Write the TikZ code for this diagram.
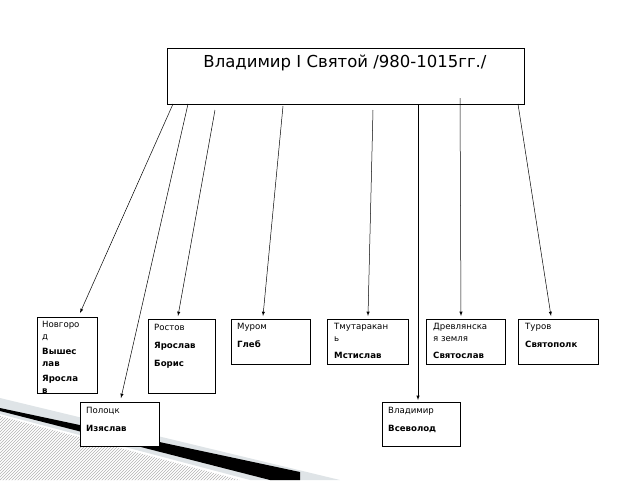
\documentclass[tikz,border=0pt]{standalone}
\usepackage{fontspec}
\setmainfont{DejaVu Sans}
\usetikzlibrary{patterns}
\begin{document}
\begin{tikzpicture}[x=1pt,y=-1pt,
 box/.style={draw,line width=0.6pt},
 lbl/.style={anchor=north west,inner sep=0pt,font=\fontsize{8.6}{12}\selectfont,align=left},
 arr/.style={-latex,line width=0.5pt}]
\useasboundingbox (0,0) rectangle (640,480);
% decoration
\fill[cyan!15!gray!25] (0,398) -- (340,480) -- (250,480) -- (0,414) -- cycle;
\fill[pattern=north east lines,pattern color=gray!60] (0,416) -- (240,480) -- (0,480) -- cycle;
\fill[black] (0,408) -- (300,472) -- (300,480) -- (270,480) -- (0,411) -- cycle;
% boxes
\node[box,fill=white,minimum width=357,minimum height=56,anchor=north west] (top) at (167,48) {};
\node[anchor=north,inner sep=0pt,font=\fontsize{16.5}{20}\selectfont] at (345,55) {Владимир I Святой /980-1015гг./};
\foreach \n/\x/\y/\w/\h in {nov/37/317/60/76, ros/148/319/67/74, mur/231/319/79/45, tmu/327/319/81/45, dre/426/319/79/45, tur/518/319/80/45, pol/80/402/79/44, vla/382/402/78/44}
  \node[box,fill=white,anchor=north west,minimum width=\w,minimum height=\h,inner sep=0pt] (\n) at (\x,\y) {};
\node[lbl] at (42,321) {Новгоро\\д\\[3pt]\textbf{Вышес}\\\textbf{лав}\\[3pt]\textbf{Яросла}\\\textbf{в}};
\node[lbl] at (154,324) {Ростов\\[6pt]\textbf{Ярослав}\\[6pt]\textbf{Борис}};
\node[lbl] at (237,323) {Муром\\[6pt]\textbf{Глеб}};
\node[lbl] at (334,323) {Тмутаракан\\ь\\[5pt]\textbf{Мстислав}};
\node[lbl] at (433,323) {Древлянска\\я земля\\[5pt]\textbf{Святослав}};
\node[lbl] at (525,323) {Туров\\[6pt]\textbf{Святополк}};
\node[lbl] at (86,407) {Полоцк\\[6pt]\textbf{Изяслав}};
\node[lbl] at (388,407) {Владимир\\[6pt]\textbf{Всеволод}};
% arrows
\coordinate (a1) at (173,104); \coordinate (a2) at (188,104);
\coordinate (a3) at (215,110); \coordinate (a4) at (283,106);
\coordinate (a5) at (373,110); \coordinate (a6) at (418,104);
\coordinate (a7) at (460,98); \coordinate (a8) at (518,104);
\draw[arr] (a1) -- (80,313);
\draw[arr] (a2) -- (121,398);
\draw[arr] (a3) -- (178,316);
\draw[arr] (a4) -- (263,316);
\draw[arr] (a5) -- (368,316);
\draw[arr] (a6) -- (418,400);
\draw[arr] (a7) -- (461,316);
\draw[arr] (a8) -- (551,316);
\end{tikzpicture}
\end{document}
